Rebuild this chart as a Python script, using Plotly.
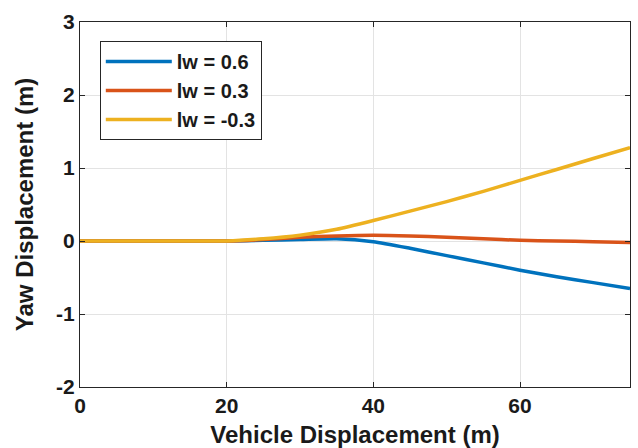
import plotly.graph_objects as go

# Data
x_disp = [0, 5, 10, 15, 20, 25, 30, 35, 40, 45, 50, 55, 60, 65, 70, 75]
yaw_lw_06 = [0, 0, 0, 0, 0, 0.01, 0.02, 0.03, -0.01, -0.10, -0.20, -0.30, -0.40, -0.49, -0.57, -0.65]
yaw_lw_03 = [0, 0, 0, 0, 0, 0.02, 0.05, 0.07, 0.08, 0.07, 0.05, 0.03, 0.01, 0.0, -0.01, -0.02]
yaw_lw_m03 = [0, 0, 0, 0, 0, 0.03, 0.08, 0.16, 0.28, 0.41, 0.54, 0.68, 0.83, 0.98, 1.13, 1.28]

series_names = ["lw = 0.6", "lw = 0.3", "lw = -0.3"]
series_colors = ["#0072BD", "#D95319", "#EDB120"]

x_ticks = [0, 20, 40, 60]
x_ticktext = ["0", "20", "40", "60"]
y_ticks = [-2, -1, 0, 1, 2, 3]
y_ticktext = ["-2", "-1", "0", "1", "2", "3"]

FONT = "Liberation Sans, Arial, Helvetica, sans-serif"

fig = go.Figure()
for name, ys, col in zip(series_names, [yaw_lw_06, yaw_lw_03, yaw_lw_m03], series_colors):
    fig.add_trace(go.Scatter(x=x_disp, y=ys, mode="lines", name=name,
                             line=dict(color=col, width=3.5, shape="spline", smoothing=0.6)))

axis_common = dict(
    showline=True, linecolor="#262626", linewidth=1, mirror="ticks",
    ticks="inside", ticklen=5, tickcolor="#262626",
    showgrid=True, gridcolor="#e3e3e3", gridwidth=1, zeroline=False,
    automargin=False,
    tickfont=dict(family=FONT, size=21, color="#1a1a1a", weight="bold"),
)

fig.update_xaxes(range=[0, 75], tickvals=x_ticks, ticktext=x_ticktext,
                 title=dict(text="Vehicle Displacement (m)",
                            font=dict(family=FONT, size=24, color="#1a1a1a", weight="bold")),
                 **axis_common)
fig.update_yaxes(range=[-2, 3], tickvals=y_ticks, ticktext=y_ticktext,
                 title=dict(text="Yaw Displacement (m)",
                            font=dict(family=FONT, size=24, color="#1a1a1a", weight="bold")),
                 **axis_common)

fig.update_layout(
    width=638, height=448,
    margin=dict(l=80, r=8, t=22, b=61),
    paper_bgcolor="white", plot_bgcolor="white",
    showlegend=True,
    legend=dict(x=0.036, y=0.948, xanchor="left", yanchor="top",
                bgcolor="white", bordercolor="#262626", borderwidth=1,
                font=dict(family=FONT, size=20, color="#1a1a1a", weight="bold"),
                tracegroupgap=0, itemwidth=66),
)

fig.write_html("out.html")
